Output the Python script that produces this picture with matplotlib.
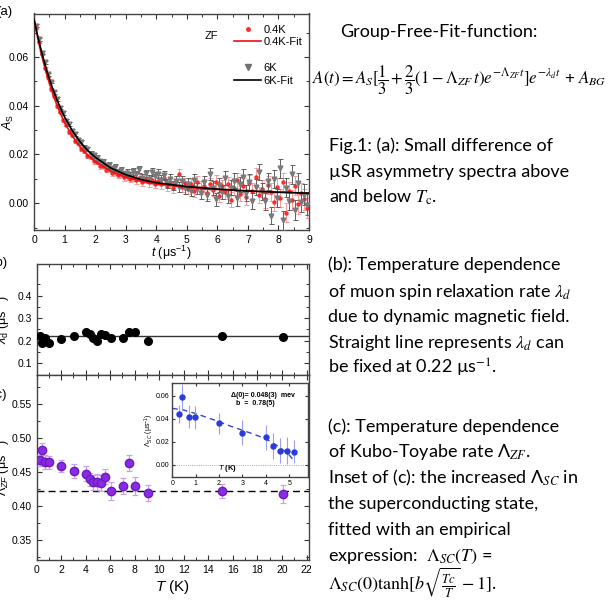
import matplotlib
matplotlib.use('Agg')
import matplotlib.pyplot as plt
from matplotlib.lines import Line2D
from matplotlib.ticker import MultipleLocator, FixedLocator

plt.rcParams['font.family'] = ['Liberation Sans', 'DejaVu Sans']
plt.rcParams['mathtext.fontset'] = 'custom'
plt.rcParams['mathtext.rm'] = 'Liberation Sans'
plt.rcParams['mathtext.it'] = 'Liberation Sans:italic'
plt.rcParams['mathtext.bf'] = 'Liberation Sans:bold'

# ---------------- (a) asymmetry spectra, ZF ----------------
t_a = [0.05, 0.15, 0.25, 0.35, 0.45, 0.55, 0.65, 0.75, 0.85, 0.95,
       1.05, 1.15, 1.25, 1.35, 1.45, 1.55, 1.65, 1.75, 1.85, 1.95,
       2.05, 2.15, 2.25, 2.35, 2.45, 2.55, 2.65, 2.75, 2.85, 2.95,
       3.05, 3.15, 3.25, 3.35, 3.45, 3.55, 3.65, 3.75, 3.85, 3.95,
       4.05, 4.15, 4.25, 4.35, 4.45, 4.55, 4.65, 4.75, 4.85, 4.95,
       5.05, 5.15, 5.25, 5.35, 5.45, 5.55, 5.65, 5.75, 5.85, 5.95,
       6.05, 6.15, 6.25, 6.35, 6.45, 6.55, 6.65, 6.75, 6.85, 6.95,
       7.05, 7.15, 7.25, 7.35, 7.45, 7.55, 7.65, 7.75, 7.85, 7.95,
       8.05, 8.15, 8.25, 8.35, 8.45, 8.55, 8.65, 8.75, 8.85, 8.95]

asym_04k = [0.0718, 0.0660, 0.0611, 0.0553, 0.0516, 0.0468, 0.0438, 0.0398, 0.0375, 0.0340,
            0.0322, 0.0293, 0.0281, 0.0253, 0.0245, 0.0221, 0.0214, 0.0193, 0.0190, 0.0171,
            0.0169, 0.0153, 0.0154, 0.0138, 0.0140, 0.0125, 0.0129, 0.0115, 0.0119, 0.0106,
            0.0111, 0.0099, 0.0108, 0.0094, 0.0104, 0.0088, 0.0099, 0.0085, 0.0097, 0.0080,
            0.0091, 0.0078, 0.0103, 0.0071, 0.0084, 0.0062, 0.0090, 0.0118, 0.0068, 0.0083,
            0.0059, 0.0078, 0.0050, 0.0087, 0.0064, 0.0071, 0.0042, 0.0079, 0.0055, 0.0088,
            0.0031, 0.0069, 0.0046, 0.0080, 0.0014, 0.0062, 0.0094, 0.0038, 0.0071, 0.0025,
            0.0083, 0.0051, 0.0109, 0.0033, 0.0060, 0.0017, 0.0074, 0.0045, 0.0005, 0.0066,
            0.0022, 0.0087, -0.0040, 0.0049, 0.0013, 0.0072, -0.0003, 0.0041, 0.0016, -0.0019]

asym_6k = [0.0728, 0.0672, 0.0618, 0.0578, 0.0528, 0.0497, 0.0455, 0.0428, 0.0392, 0.0370,
           0.0339, 0.0323, 0.0296, 0.0284, 0.0259, 0.0249, 0.0228, 0.0221, 0.0203, 0.0197,
           0.0186, 0.0172, 0.0170, 0.0155, 0.0156, 0.0141, 0.0147, 0.0129, 0.0136, 0.0120,
           0.0125, 0.0112, 0.0130, 0.0118, 0.0139, 0.0105, 0.0122, 0.0098, 0.0127, 0.0110,
           0.0121, 0.0096, 0.0115, 0.0082, 0.0101, 0.0073, 0.0092, 0.0066, 0.0089, 0.0061,
           0.0079, 0.0052, 0.0094, 0.0060, 0.0043, 0.0085, 0.0033, 0.0120, 0.0062, 0.0016,
           0.0075, 0.0045, 0.0102, 0.0028, 0.0064, 0.0092, 0.0020, 0.0078, 0.0108, 0.0041,
           0.0086, 0.0010, 0.0066, 0.0128, 0.0047, 0.0007, 0.0089, -0.0051, 0.0098, 0.0021,
           0.0143, -0.0070, 0.0063, 0.0010, 0.0118, -0.0028, 0.0083, 0.0004, 0.0035, -0.0006]

err_a = [0.0005, 0.0005, 0.0005, 0.0006, 0.0006, 0.0006, 0.0006, 0.0007, 0.0007, 0.0007,
         0.0007, 0.0008, 0.0008, 0.0008, 0.0008, 0.0009, 0.0009, 0.0009, 0.0010, 0.0010,
         0.0010, 0.0011, 0.0011, 0.0011, 0.0012, 0.0012, 0.0012, 0.0013, 0.0013, 0.0013,
         0.0014, 0.0014, 0.0015, 0.0015, 0.0015, 0.0016, 0.0016, 0.0017, 0.0017, 0.0017,
         0.0018, 0.0018, 0.0019, 0.0019, 0.0020, 0.0020, 0.0021, 0.0021, 0.0022, 0.0022,
         0.0023, 0.0023, 0.0024, 0.0024, 0.0025, 0.0025, 0.0026, 0.0026, 0.0027, 0.0027,
         0.0028, 0.0028, 0.0029, 0.0029, 0.0030, 0.0030, 0.0031, 0.0031, 0.0032, 0.0032,
         0.0033, 0.0033, 0.0034, 0.0034, 0.0035, 0.0035, 0.0036, 0.0036, 0.0037, 0.0037,
         0.0038, 0.0038, 0.0039, 0.0039, 0.0040, 0.0040, 0.0041, 0.0041, 0.0042, 0.0042]

# fit curves
fit_t = [0, 0.1, 0.2, 0.3, 0.4, 0.5, 0.6, 0.75, 0.9, 1.0, 1.25, 1.5, 1.75, 2.0,
         2.5, 3.0, 3.5, 4.0, 5.0, 6.0, 7.0, 8.0, 9.0]
fit_04k = [0.0755, 0.0692, 0.0634, 0.0582, 0.0535, 0.0492, 0.0454, 0.0402, 0.0358, 0.0331,
           0.0276, 0.0232, 0.0198, 0.0171, 0.0132, 0.0107, 0.0090, 0.0079, 0.0065,
           0.0056, 0.0050, 0.0045, 0.0041]
fit_6k = [0.0755, 0.0697, 0.0644, 0.0596, 0.0551, 0.0511, 0.0474, 0.0424, 0.0381, 0.0354,
          0.0298, 0.0253, 0.0217, 0.0189, 0.0145, 0.0117, 0.0097, 0.0084, 0.0068,
          0.0058, 0.0050, 0.0045, 0.0041]

# ---------------- (b) lambda_d vs T ----------------
T_b = [0.27, 0.41, 0.70, 1.0, 2.03, 3.04, 4.04, 4.34, 4.63, 4.93, 5.23, 5.56,
       6.04, 7.05, 7.56, 8.05, 9.05, 15.1, 20.1]
lam_d = [0.221, 0.192, 0.214, 0.192, 0.206, 0.220, 0.240, 0.229, 0.214, 0.198,
         0.229, 0.224, 0.214, 0.214, 0.239, 0.239, 0.198, 0.221, 0.218]
lam_d_fixed = 0.22

# ---------------- (c) Lambda_ZF vs T ----------------
lam_zf = [0.467, 0.482, 0.465, 0.464, 0.459, 0.451, 0.447, 0.439, 0.435, 0.435,
          0.434, 0.443, 0.422, 0.429, 0.463, 0.429, 0.419, 0.422, 0.417]
lam_zf_err = [0.008, 0.011, 0.010, 0.010, 0.009, 0.010, 0.011, 0.010, 0.011, 0.012,
              0.012, 0.011, 0.013, 0.012, 0.012, 0.013, 0.012, 0.010, 0.013]
lam_zf_normal = 0.4225

# inset: Lambda_SC
T_in = [0.28, 0.41, 0.71, 0.99, 2.0, 3.0, 4.0, 4.3, 4.6, 4.9, 5.2]
lam_sc = [0.0441, 0.0590, 0.0418, 0.0412, 0.0360, 0.0280, 0.0240, 0.0164, 0.0124, 0.0124, 0.0115]
lam_sc_err = [0.008, 0.011, 0.010, 0.010, 0.009, 0.011, 0.011, 0.011, 0.011, 0.012, 0.010]
fit_T_in = [0, 0.5, 1.0, 1.5, 2.0, 2.5, 3.0, 3.5, 4.0, 4.5, 4.8, 5.0, 5.1, 5.2]
fit_sc = [0.049, 0.0475, 0.0445, 0.041, 0.0375, 0.0335, 0.030, 0.0265, 0.0225,
          0.0165, 0.012, 0.0085, 0.006, 0.003]

W, H = 614, 616
fig = plt.figure(figsize=(W / 100, H / 100), dpi=100)


def box(l, t, r, b):
    # pixel box -> figure fraction
    return [l / W, 1 - b / H, (r - l) / W, (b - t) / H]


def style_ticks(ax, size=7.5):
    ax.tick_params(which='both', direction='in', top=True, right=True,
                   labelsize=size, colors='#333333', labelcolor='black')
    ax.tick_params(which='major', length=3.5, width=0.8)
    ax.tick_params(which='minor', length=2, width=0.7)
    for s in ax.spines.values():
        s.set_color('#444444')
        s.set_linewidth(1.0)


ax_a = fig.add_axes(box(34, 13.5, 309, 230))
ax_b = fig.add_axes(box(36.5, 264, 309, 375))
ax_c = fig.add_axes(box(36.5, 375, 309, 560))
ax_in = fig.add_axes(box(172.3, 383, 308, 477))

# --- panel a
ax_a.errorbar(t_a, asym_04k, yerr=err_a, fmt='o', ms=2.2, color='#ff2a2a',
              ecolor='#ff9a9a', elinewidth=0.7, capsize=1.8, capthick=0.7, zorder=2)
ax_a.errorbar(t_a, asym_6k, yerr=err_a, fmt='v', ms=3.4, color='#7a7a7a',
              ecolor='#606060', elinewidth=0.7, capsize=1.8, capthick=0.7, zorder=3)
ax_a.plot(fit_t, fit_04k, color='#ee1111', lw=1.2, zorder=4)
ax_a.plot(fit_t, fit_6k, color='black', lw=1.2, zorder=5)
ax_a.set_xlim(0, 9)
ax_a.set_ylim(-0.011, 0.0778)
ax_a.xaxis.set_major_locator(MultipleLocator(1))
ax_a.xaxis.set_minor_locator(MultipleLocator(0.5))
ax_a.yaxis.set_major_locator(MultipleLocator(0.02))
ax_a.yaxis.set_minor_locator(MultipleLocator(0.01))
style_ticks(ax_a)
ax_a.set_xlabel(r'$t$ (μs$^{-1}$)', fontsize=9, labelpad=-1)
ax_a.set_ylabel(r'$A_\mathrm{S}$', fontsize=9)
ax_a.yaxis.set_label_coords(-0.065, 0.5)
ax_a.text(0.62, 0.88, 'ZF', transform=ax_a.transAxes, fontsize=8)

handles = [Line2D([], [], ls='none', marker='o', ms=2.5, color='#ff2a2a'),
           Line2D([], [], color='#ee1111', lw=1.2),
           Line2D([], [], ls='none'),
           Line2D([], [], ls='none', marker='v', ms=4, color='#707070'),
           Line2D([], [], color='black', lw=1.2)]
ax_a.legend(handles, ['0.4K', '0.4K-Fit', '', '6K', '6K-Fit'], loc='upper left',
            bbox_to_anchor=(0.70, 0.985), frameon=False, fontsize=8,
            handlelength=2.4, handletextpad=0.2, labelspacing=0.25, borderpad=0.2)

# --- panel b
ax_b.plot(T_b, lam_d, 'o', color='black', ms=5.5, zorder=3)
ax_b.axhline(lam_d_fixed, color='#333333', lw=1.0, zorder=2)
ax_b.set_xlim(0, 22.2)
ax_b.set_ylim(0.048, 0.54)
ax_b.xaxis.set_major_locator(MultipleLocator(2))
ax_b.xaxis.set_minor_locator(MultipleLocator(1))
ax_b.yaxis.set_major_locator(FixedLocator([0.1, 0.2, 0.3, 0.4]))
ax_b.yaxis.set_minor_locator(FixedLocator([0.05, 0.15, 0.25, 0.35, 0.45]))
style_ticks(ax_b)
ax_b.tick_params(labelbottom=False)
ax_b.set_ylabel(r'$\lambda_\mathrm{d}$ (μs$^{-1}$)', fontsize=9)
ax_b.yaxis.set_label_coords(-0.09, 0.5)

# --- panel c
ax_c.errorbar(T_b, lam_zf, yerr=lam_zf_err, fmt='o', ms=6, color='#8a2be2',
              mec='#6a1bc2', ecolor='#c8a2f0', elinewidth=0.9, capsize=2.5,
              capthick=0.9, zorder=3)
ax_c.axhline(lam_zf_normal, color='black', lw=1.0, ls=(0, (5, 3)), zorder=2)
ax_c.set_xlim(0, 22.2)
ax_c.set_ylim(0.32, 0.593)
ax_c.xaxis.set_major_locator(MultipleLocator(2))
ax_c.xaxis.set_minor_locator(MultipleLocator(1))
ax_c.yaxis.set_major_locator(MultipleLocator(0.05))
ax_c.yaxis.set_minor_locator(MultipleLocator(0.025))
style_ticks(ax_c)
ax_c.set_xlabel(r'$T$ (K)', fontsize=11, labelpad=2)
ax_c.set_ylabel(r'$\Lambda_{ZF}$ (μs$^{-1}$)', fontsize=9)
ax_c.yaxis.set_label_coords(-0.09, 0.5)

# --- inset
ax_in.errorbar(T_in, lam_sc, yerr=lam_sc_err, fmt='o', ms=3.6, color='#2a3bdc',
               ecolor='#9aa0ee', elinewidth=0.8, capsize=0, zorder=3)
ax_in.plot(fit_T_in, fit_sc, color='#3344dd', lw=1.0, ls=(0, (4, 3)), zorder=2)
ax_in.axhline(0, color='#888888', lw=0.6, ls=':', zorder=1)
ax_in.set_xlim(0, 5.8)
ax_in.set_ylim(-0.0105, 0.071)
ax_in.xaxis.set_major_locator(MultipleLocator(1))
ax_in.yaxis.set_major_locator(MultipleLocator(0.02))
style_ticks(ax_in, size=5)
ax_in.tick_params(which='major', length=2.5, pad=2)
ax_in.set_ylabel(r'$\Lambda_{SC}$ (μs$^{-1}$)', fontsize=5, labelpad=0)
ax_in.text(0.41, 0.035, r'$T$ (K)', transform=ax_in.transAxes, fontsize=5.5,
           fontweight='bold', ha='center', va='bottom')
ax_in.text(0.43, 0.872, 'Δ(0)= 0.048(3)  mev', transform=ax_in.transAxes,
           fontsize=5, fontweight='bold', va='center')
ax_in.text(0.47, 0.777, 'b  =  0.78(5)', transform=ax_in.transAxes,
           fontsize=5, fontweight='bold', va='center')

# panel letters, partly cut at the left edge as in the original
fig.text(-0.006, 1 - 12 / H, '(a)', fontsize=9.5, va='center')
fig.text(-0.015, 1 - 263 / H, '(b)', fontsize=9.5, va='center')
fig.text(-0.015, 1 - 395 / H, '(c)', fontsize=9.5, va='center')

# ---------------- text column on the right ----------------
txt = dict(fontsize=13, family=['Lato', 'DejaVu Sans'], math_fontfamily='stix', va='center')
fig.text(340 / W, 1 - 32 / H, 'Group-Free-Fit-function:', **txt)
fig.text(312 / W, 1 - 80 / H,
         r'$A(t) = A_S[\dfrac{1}{3}+\dfrac{2}{3}(1-\Lambda_{ZF}\,t)e^{-\Lambda_{ZF}t}]e^{-\lambda_d t}$ + $A_{BG}$',
         fontsize=12.1, math_fontfamily='stix', va='center')

lines_a = ['Fig.1: (a): Small difference of',
           'µSR asymmetry spectra above',
           r'and below $T_\mathrm{c}$.']
for y, s in zip([146, 172, 197], lines_a):
    fig.text(329 / W, 1 - y / H, s, **txt)

lines_b = ['(b): Temperature dependence',
           r'of muon spin relaxation rate $\lambda_d$',
           'due to dynamic magnetic field.',
           r'Straight line represents $\lambda_d$ can',
           r'be fixed at 0.22 µs$^{\mathrm{-1}}$.']
for y, s in zip([265, 292, 317, 343, 368], lines_b):
    fig.text(328 / W, 1 - y / H, s, **txt)

lines_c = ['(c): Temperature dependence',
           r'of Kubo-Toyabe rate Λ$_{ZF}$.',
           r'Inset of (c): the increased Λ$_{SC}$ in',
           'the superconducting state,',
           'fitted with an empirical',
           r'expression:  $\Lambda_{SC}(T)$ =',
           r'$\Lambda_{SC}(0)\mathrm{tanh}[b\sqrt{\frac{Tc}{T}}-1]$.']
for y, s in zip([427, 452, 478, 504, 530, 556, 583, 606], lines_c):
    fig.text(328 / W, 1 - y / H, s, **txt)

fig.savefig('out.png', dpi=100)
plt.close(fig)
